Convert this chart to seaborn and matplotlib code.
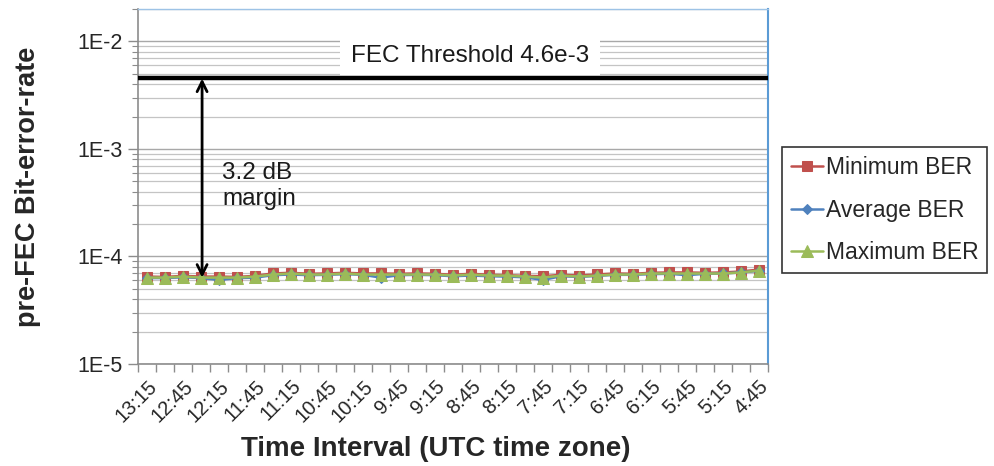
import matplotlib
matplotlib.use("Agg")
import numpy as np
import pandas as pd
import seaborn as sns
import matplotlib.pyplot as plt
from matplotlib.ticker import FixedLocator, NullFormatter

# ---------------- data ----------------
times = ["13:15", "13:00", "12:45", "12:30", "12:15", "12:00", "11:45", "11:30",
         "11:15", "11:00", "10:45", "10:30", "10:15", "10:00", "9:45", "9:30",
         "9:15", "9:00", "8:45", "8:30", "8:15", "8:00", "7:45", "7:30",
         "7:15", "7:00", "6:45", "6:30", "6:15", "6:00", "5:45", "5:30",
         "5:15", "5:00", "4:45"]

min_ber = [6.50e-5, 6.45e-5, 6.60e-5, 6.50e-5, 6.50e-5, 6.45e-5, 6.60e-5, 6.95e-5,
           7.05e-5, 6.90e-5, 6.95e-5, 7.05e-5, 6.95e-5, 6.95e-5, 6.90e-5, 6.95e-5,
           6.90e-5, 6.75e-5, 6.90e-5, 6.75e-5, 6.70e-5, 6.60e-5, 6.55e-5, 6.75e-5,
           6.65e-5, 6.80e-5, 6.95e-5, 6.90e-5, 7.05e-5, 7.10e-5, 7.10e-5, 7.05e-5,
           7.10e-5, 7.25e-5, 7.55e-5]

avg_ber = [6.30e-5, 6.30e-5, 6.40e-5, 6.30e-5, 6.05e-5, 6.30e-5, 6.35e-5, 6.70e-5,
           6.80e-5, 6.70e-5, 6.75e-5, 6.85e-5, 6.75e-5, 6.35e-5, 6.70e-5, 6.75e-5,
           6.70e-5, 6.55e-5, 6.65e-5, 6.55e-5, 6.50e-5, 6.40e-5, 6.05e-5, 6.55e-5,
           6.45e-5, 6.60e-5, 6.75e-5, 6.75e-5, 6.85e-5, 6.90e-5, 6.70e-5, 6.90e-5,
           6.95e-5, 7.10e-5, 7.35e-5]

max_ber = [6.36e-5, 6.36e-5, 6.50e-5, 6.36e-5, 6.36e-5, 6.36e-5, 6.50e-5, 6.79e-5,
           6.94e-5, 6.79e-5, 6.79e-5, 6.94e-5, 6.79e-5, 6.79e-5, 6.79e-5, 6.79e-5,
           6.79e-5, 6.64e-5, 6.79e-5, 6.64e-5, 6.64e-5, 6.50e-5, 6.36e-5, 6.64e-5,
           6.50e-5, 6.64e-5, 6.79e-5, 6.79e-5, 6.94e-5, 6.94e-5, 6.94e-5, 6.94e-5,
           6.94e-5, 7.09e-5, 7.40e-5]

series_names = ["Minimum BER", "Average BER", "Maximum BER"]
series_colors = ["#C0504D", "#4F81BD", "#9BBB59"]
series_markers = ["s", "D", "^"]
series_msize = [6.5, 5.5, 8.5]

fec_threshold = 4.6e-3
y_ticks = [1e-5, 1e-4, 1e-3, 1e-2]
y_tick_labels = ["1E-5", "1E-4", "1E-3", "1E-2"]

# ---------------- plot ----------------
sns.set_style("white")
plt.rcParams["font.family"] = ["Liberation Sans", "DejaVu Sans"]

fig = plt.figure(figsize=(9.94, 4.66), dpi=100)
ax = fig.add_axes([138 / 994, 1 - 364 / 466, 630 / 994, 355 / 466])

idx = list(range(len(times)))
frames = []
for name, vals in zip(series_names, [min_ber, avg_ber, max_ber]):
    frames.append(pd.DataFrame({"idx": idx, "ber": vals, "series": name}))
df = pd.concat(frames, ignore_index=True)

handles = []
for name, col, mk, ms in zip(series_names, series_colors, series_markers, series_msize):
    sub = df[df["series"] == name]
    sns.lineplot(data=sub, x="idx", y="ber", ax=ax, color=col, marker=mk,
                 markersize=ms, markeredgecolor=col, linewidth=1.8, label=name,
                 legend=False)
    handles.append(ax.lines[-1])

ax.set_yscale("log")
ax.set_ylim(1e-5, 2e-2)
ax.set_xlim(-0.5, len(times) - 0.5)

# y ticks & grid
ax.yaxis.set_major_locator(FixedLocator(y_ticks))
ax.set_yticklabels(y_tick_labels)
minor_y = [m * 10.0 ** e for e in range(-5, -1) for m in range(2, 10)]
ax.yaxis.set_minor_locator(FixedLocator(minor_y))
ax.yaxis.set_minor_formatter(NullFormatter())
ax.grid(True, which="major", axis="y", color="#a8a8a8", linewidth=1.0)
ax.grid(True, which="minor", axis="y", color="#c4c4c4", linewidth=0.9)
ax.grid(False, axis="x")
ax.tick_params(axis="y", which="major", direction="out", length=7, width=1,
               color="#8c8c8c", labelsize=15.5, pad=4, left=True)
ax.tick_params(axis="y", which="minor", direction="out", length=4, width=0.8,
               color="#8c8c8c", left=True)

# x ticks: labels every other category, marks at category boundaries
ax.xaxis.set_major_locator(FixedLocator(idx[::2]))
ax.set_xticklabels(times[::2], rotation=45, ha="right", rotation_mode="anchor")
ax.xaxis.set_minor_locator(FixedLocator([i - 0.5 for i in range(len(times) + 1)]))
ax.tick_params(axis="x", which="major", length=0, labelsize=14.5, pad=9, bottom=True)
ax.tick_params(axis="x", which="minor", direction="out", length=6, width=1,
               color="#8c8c8c", bottom=True)
ax.set_xlabel("")
ax.set_ylabel("")

# spines
for s in ["left", "bottom"]:
    ax.spines[s].set_color("#8c8c8c")
    ax.spines[s].set_linewidth(1.2)
ax.spines["top"].set_color("#9DC3E6")
ax.spines["top"].set_linewidth(1.0)
ax.spines["right"].set_color("#5B9BD5")
ax.spines["right"].set_linewidth(1.5)

# threshold line, arrow, annotations
ax.axhline(fec_threshold, color="black", linewidth=3.2, zorder=8)
ax.text(17.94, 7.24e-3, "FEC Threshold 4.6e-3", ha="center", va="center",
        fontsize=17.5, color="#1a1a1a",
        bbox=dict(facecolor="white", edgecolor="none", pad=8), zorder=6)
ax.annotate("", xy=(3.06, fec_threshold * 0.98), xytext=(3.06, 6.35e-5),
            arrowprops=dict(arrowstyle="<->", lw=2.0, color="black",
                            shrinkA=0, shrinkB=0, mutation_scale=18), zorder=9)
ax.text(4.17, 7.6e-4, "3.2 dB\nmargin", ha="left", va="top", fontsize=17.5,
        color="#1a1a1a", linespacing=1.25, zorder=6)

# axis labels
fig.text(0.028, (1 - 187 / 466), "pre-FEC Bit-error-rate", rotation=90,
         ha="center", va="center", fontsize=19.5, fontweight="bold")
fig.text(436 / 994, 1 - 449 / 466, "Time Interval (UTC time zone)",
         ha="center", va="center", fontsize=20, fontweight="bold")

# legend
leg = fig.legend(handles, series_names, loc="upper left",
                 bbox_to_anchor=(782 / 994, 1 - 147 / 466), frameon=True,
                 fancybox=False, edgecolor="black", fontsize=16.5,
                 handlelength=1.4, handletextpad=0.1, borderpad=0.4,
                 labelspacing=0.85, borderaxespad=0)
leg.get_frame().set_linewidth(1.2)

fig.savefig("out.png", dpi=100)
